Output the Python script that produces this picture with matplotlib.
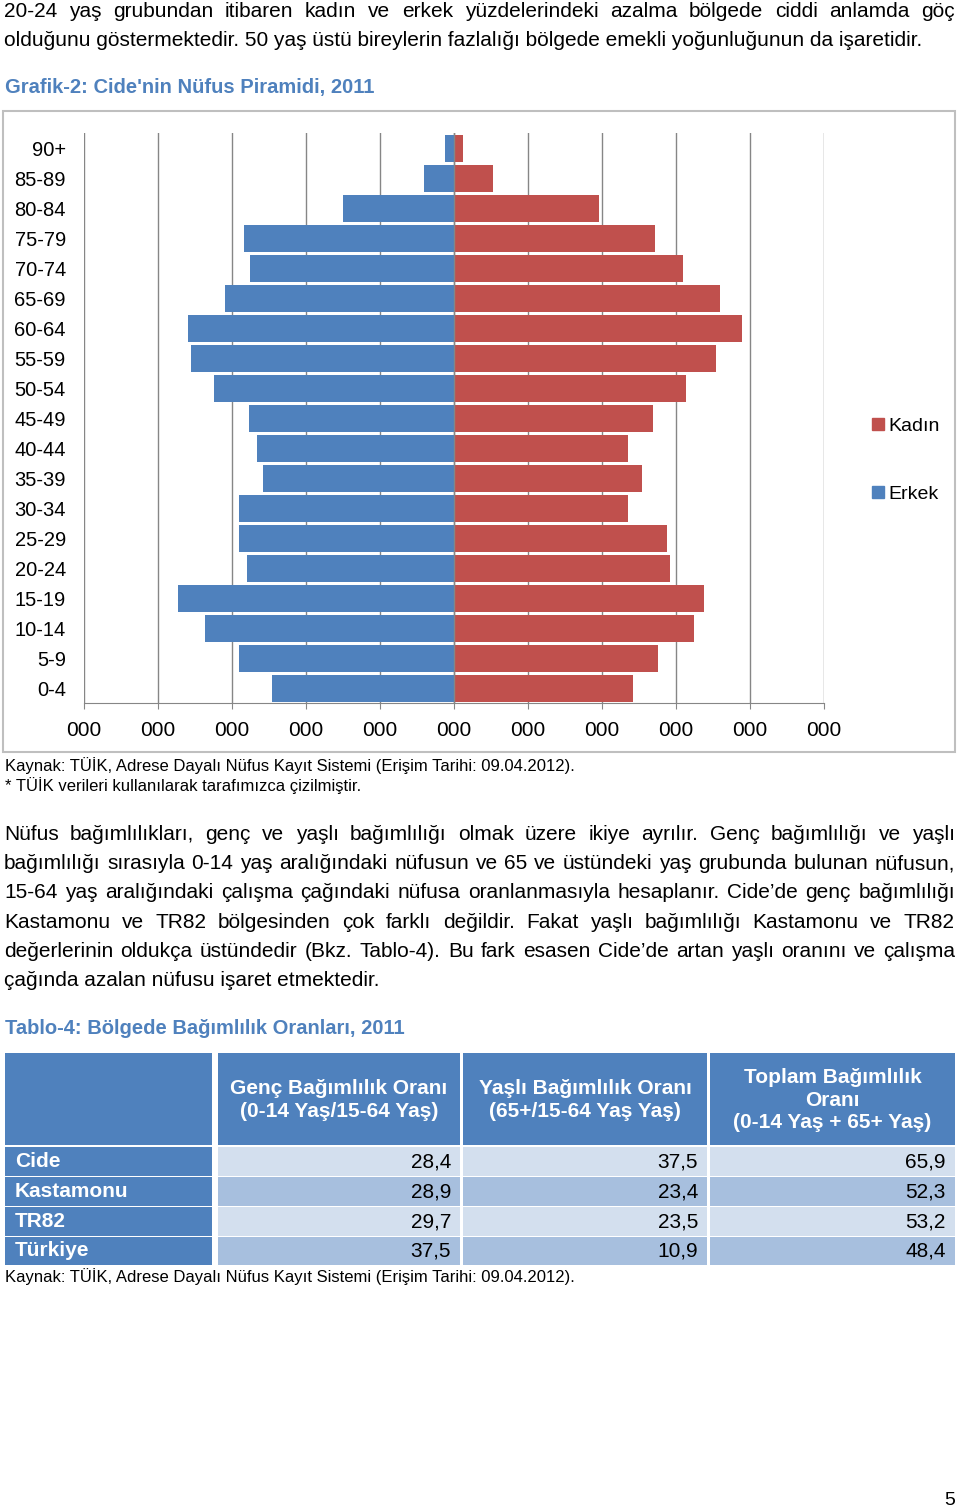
import matplotlib.pyplot as plt
from matplotlib.patches import Rectangle, Patch

W, H = 960, 1507

plt.rcParams['font.family'] = ['Liberation Sans', 'DejaVu Sans']

# --- data ---
age_groups = ['0-4', '5-9', '10-14', '15-19', '20-24', '25-29', '30-34', '35-39', '40-44',
              '45-49', '50-54', '55-59', '60-64', '65-69', '70-74', '75-79', '80-84', '85-89', '90+']
erkek = [492, 580, 672, 745, 559, 580, 582, 517, 532, 554, 648, 710, 719, 619, 551, 567, 301, 80, 24]
kadin = [484, 552, 648, 675, 585, 577, 471, 509, 469, 539, 628, 707, 778, 720, 618, 543, 392, 105, 24]

table_rows = ['Cide', 'Kastamonu', 'TR82', 'Türkiye']
table_cols = ['Genç Bağımlılık Oranı\n(0-14 Yaş/15-64 Yaş)',
              'Yaşlı Bağımlılık Oranı\n(65+/15-64 Yaş Yaş)',
              'Toplam Bağımlılık\nOranı\n(0-14 Yaş + 65+ Yaş)']
genc = ['28,4', '28,9', '29,7', '37,5']
yasli = ['37,5', '23,4', '23,5', '10,9']
toplam = ['65,9', '52,3', '53,2', '48,4']

BLUE = '#4F81BD'
RED = '#C0504D'
GRID = '#868686'

fig = plt.figure(figsize=(W / 100, H / 100), dpi=100)


def fy(y):
    return 1 - y / H


def para_line(line, y, size=15, x0=4, x1=955, justify=True, **kw):
    if not justify:
        fig.text(x0 / W, fy(y), line, fontsize=size, va='baseline', **kw)
        return
    words = line.split(' ')
    r = fig.canvas.get_renderer()
    ts = [fig.text(0, fy(y), w, fontsize=size, va='baseline', **kw) for w in words]
    widths = [t.get_window_extent(r).width for t in ts]
    gap = (x1 - x0 - sum(widths)) / (len(words) - 1)
    x = x0
    for t, w in zip(ts, widths):
        t.set_x(x / W)
        x += w + gap


# top paragraph
para_line('20-24 yaş grubundan itibaren kadın ve erkek yüzdelerindeki azalma bölgede ciddi anlamda göç', 17)
para_line('olduğunu göstermektedir. 50 yaş üstü bireylerin fazlalığı bölgede emekli yoğunluğunun da işaretidir.',
          46, justify=False)
fig.text(5 / W, fy(93), "Grafik-2: Cide'nin Nüfus Piramidi, 2011", fontsize=14.5,
         fontweight='bold', color=BLUE, va='baseline')

# chart frame
fig.patches.append(Rectangle((3 / W, fy(752)), 952 / W, 641 / H, transform=fig.transFigure,
                             fill=False, edgecolor='#BFBFBF', lw=1.5))

ax = fig.add_axes([84 / W, fy(703), (824 - 84) / W, (703 - 133) / H])
y = range(len(age_groups))
ax.barh(y, [-v for v in erkek], height=0.9, color=BLUE, label='Erkek', zorder=3)
ax.barh(y, kadin, height=0.9, color=RED, label='Kadın', zorder=3)
ax.set_xlim(-1000, 1000)
ax.set_ylim(-0.5, len(age_groups) - 0.5)
ticks = list(range(-1000, 1001, 200))
ax.set_xticks(ticks)
ax.set_xticklabels(['000'] * len(ticks))
ax.set_yticks(list(y))
ax.set_yticklabels(age_groups)
ax.grid(axis='x', color=GRID, lw=1, zorder=0)
ax.axvline(0, color=GRID, lw=1, zorder=4)
for s in ['top', 'right', 'left']:
    ax.spines[s].set_visible(False)
ax.spines['bottom'].set_color(GRID)
ax.tick_params(axis='y', length=0, pad=13, labelsize=14.5)
ax.tick_params(axis='x', length=4, color=GRID, pad=9, labelsize=15)

fig.legend(handles=[Patch(color=RED, label='Kadın'), Patch(color=BLUE, label='Erkek')],
           loc='upper left', bbox_to_anchor=(872 / W, fy(418)), frameon=False, fontsize=14,
           borderpad=0, borderaxespad=0,
           labelspacing=2.62, handlelength=0.6, handleheight=0.6, handletextpad=0.25)

fig.text(5 / W, fy(771), 'Kaynak: TÜİK, Adrese Dayalı Nüfus Kayıt Sistemi (Erişim Tarihi: 09.04.2012).',
         fontsize=12, va='baseline')
fig.text(5 / W, fy(791), '* TÜİK verileri kullanılarak tarafımızca çizilmiştir.', fontsize=12, va='baseline')

# second paragraph
lines = ['Nüfus bağımlılıkları, genç ve yaşlı bağımlılığı olmak üzere ikiye ayrılır. Genç bağımlılığı ve yaşlı',
         'bağımlılığı sırasıyla 0-14 yaş aralığındaki nüfusun ve 65 ve üstündeki yaş grubunda bulunan nüfusun,',
         '15-64 yaş aralığındaki çalışma çağındaki nüfusa oranlanmasıyla hesaplanır. Cide’de genç bağımlılığı',
         'Kastamonu ve TR82 bölgesinden çok farklı değildir. Fakat yaşlı bağımlılığı Kastamonu ve TR82',
         'değerlerinin oldukça üstündedir (Bkz. Tablo-4). Bu fark esasen Cide’de artan yaşlı oranını ve çalışma',
         'çağında azalan nüfusu işaret etmektedir.']
for i, ln in enumerate(lines):
    para_line(ln, 840 + i * 29.2, justify=(i < len(lines) - 1))

fig.text(5 / W, fy(1034), 'Tablo-4: Bölgede Bağımlılık Oranları, 2011', fontsize=14.5,
         fontweight='bold', color=BLUE, va='baseline')

# table
col_x = [(5, 212), (218, 460), (463, 707), (710, 955)]
row_y = [(1147, 1176), (1177, 1206), (1207, 1236), (1237, 1265)]
head_y = (1053, 1145)


def cell(x0, x1, y0, y1, color):
    fig.patches.append(Rectangle((x0 / W, fy(y1)), (x1 - x0) / W, (y1 - y0) / H,
                                 transform=fig.transFigure, color=color, lw=0))


for x0, x1 in col_x:
    cell(x0, x1, head_y[0], head_y[1], BLUE)
for j, name in enumerate(table_cols):
    x0, x1 = col_x[j + 1]
    fig.text((x0 + x1) / 2 / W, fy((head_y[0] + head_y[1]) / 2 + 1), name, color='white',
             fontsize=15, fontweight='bold', ha='center', va='center', linespacing=1.22)

for i, rname in enumerate(table_rows):
    y0, y1 = row_y[i]
    cell(col_x[0][0], col_x[0][1], y0, y1, BLUE)
    fig.text(15 / W, fy((y0 + y1) / 2), rname, color='white', fontsize=15, fontweight='bold', va='center')
    bg = '#D3DFEE' if i % 2 == 0 else '#A7BFDE'
    for j, vals in enumerate([genc, yasli, toplam]):
        x0, x1 = col_x[j + 1]
        cell(x0, x1, y0, y1, bg)
        fig.text((x1 - 9) / W, fy((y0 + y1) / 2), vals[i], fontsize=15, ha='right', va='center')

fig.text(5 / W, fy(1282), 'Kaynak: TÜİK, Adrese Dayalı Nüfus Kayıt Sistemi (Erişim Tarihi: 09.04.2012).',
         fontsize=12, va='baseline')
fig.text(955 / W, fy(1505), '5', fontsize=14, ha='right', va='baseline')

fig.savefig('out.png', dpi=100)
